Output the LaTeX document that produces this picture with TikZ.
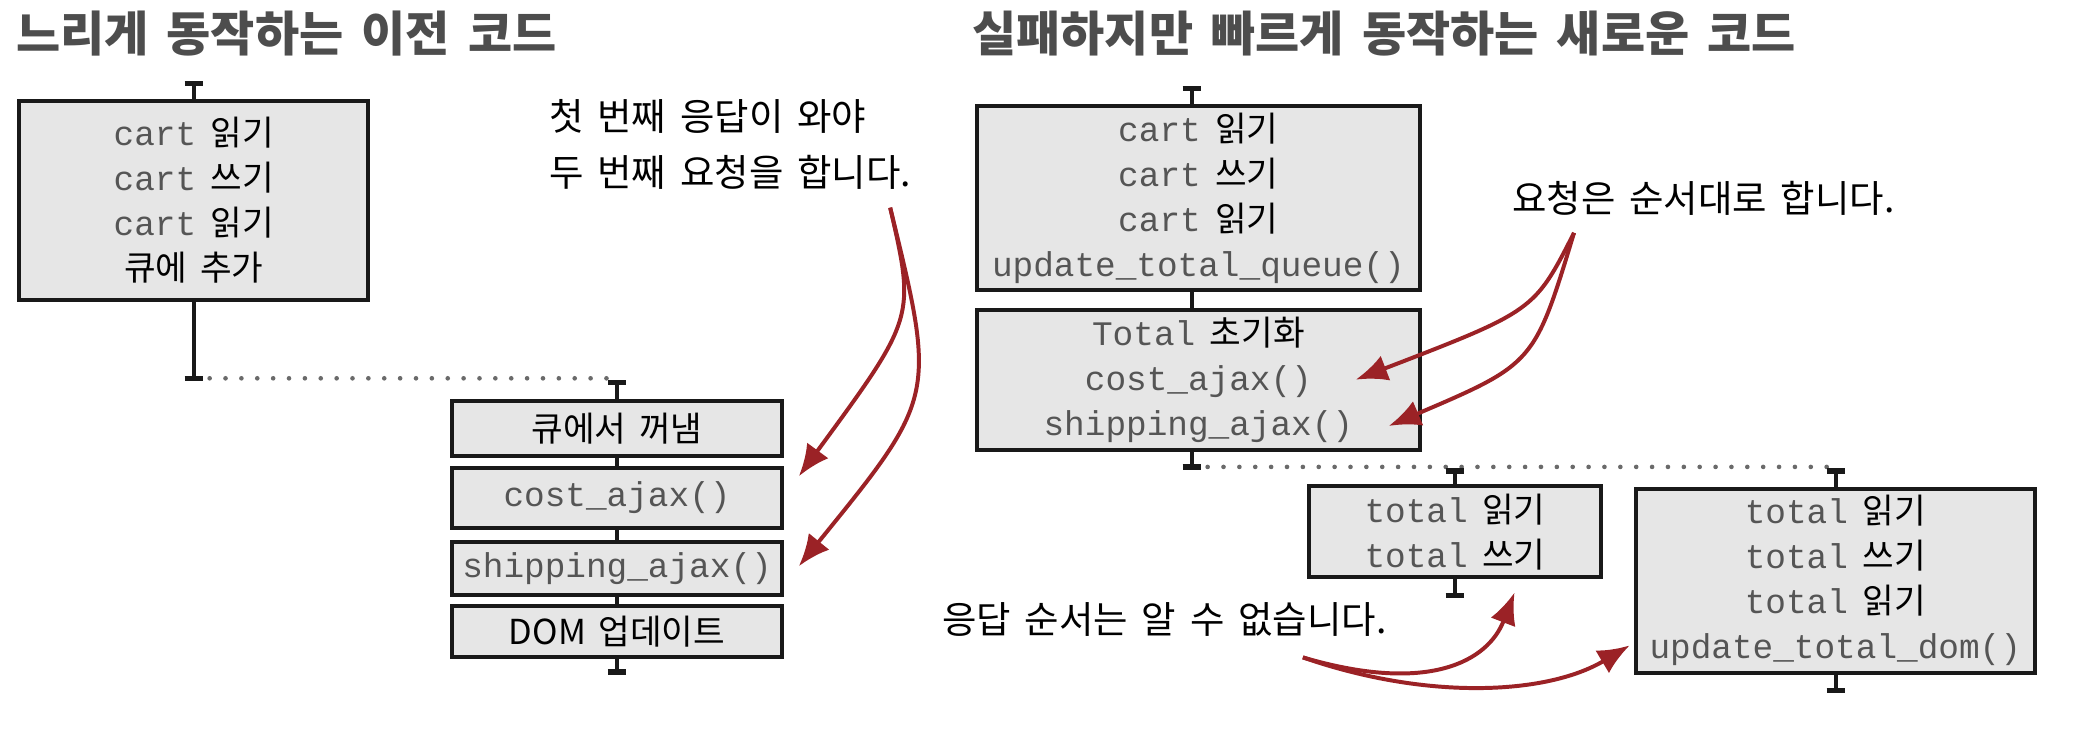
\documentclass[tikz,border=0pt]{standalone}
\usepackage{fontspec}
\setmonofont{Liberation Mono}
\newfontfamily\kr{Noto Sans CJK KR}
\newfontfamily\krw[WordSpace=2]{Noto Sans CJK KR}
\newfontfamily\krt[WordSpace=1.65]{Noto Sans CJK KR}
\usetikzlibrary{arrows.meta}
\definecolor{codegray}{HTML}{555555}
\definecolor{boxfill}{HTML}{E6E6E6}
\definecolor{arrred}{HTML}{9B2226}
\definecolor{titlegray}{HTML}{4D4D4D}
\definecolor{dotgray}{HTML}{6A6A6A}
\newcommand\cd[1]{{\ttfamily\color{codegray}#1}}
\newcommand\cl[2]{\cd{#1}\hspace{0.42em}#2}
\newcommand\tickat[1]{\draw[tickbar] ([xshift=-7pt]#1) -- ([xshift=7pt]#1);}
\tikzset{
 box/.style={draw=black!90, line width=3pt, fill=boxfill, align=center, inner sep=0pt, font=\kr\fontsize{26}{34}\selectfont},
 spine/.style={line width=3pt, draw=black!90},
 tickbar/.style={line width=4pt, draw=black!90},
 dots/.style={line width=3.5pt, draw=dotgray, dash pattern=on 0pt off 12pt, line cap=round},
 redarrow/.style={line width=3pt, draw=arrred, -{Latex[length=24pt,width=20pt]}},
 note/.style={font=\krw\fontsize{28.3}{42}\selectfont, align=left, inner sep=0pt, anchor=west},
 title/.style={font=\krt\bfseries\fontsize{36.3}{42}\selectfont, text=titlegray, inner sep=0pt, anchor=west}
}
\begin{document}
\begin{tikzpicture}[x=1pt,y=-1pt]
\useasboundingbox (0,0) rectangle (1568,555);
% titles
\node[title] (tl) at (12,25) {느리게 동작하는 이전 코드};
\node[title] (tr) at (735,25) {실패하지만 빠르게 동작하는 새로운 코드};

% ---------- left: old code ----------
\node[box, minimum width=264pt, minimum height=150pt] (L1) at (146.5,151.5)
  {\cl{cart}{읽기}\\ \cl{cart}{쓰기}\\ \cl{cart}{읽기}\\ 큐에 추가};
\coordinate (L1t) at (146.5,63);
\coordinate (L1b) at (146.5,286);
\draw[spine] (L1t) -- (L1t |- L1.north);
\draw[spine] (L1.south) -- (L1b);
\tickat{L1t}
\tickat{L1b}

\node[box, minimum width=250pt, minimum height=41pt] (L2) at (466.5,324) {큐에서 꺼냄};
\node[box, minimum width=250pt, minimum height=45pt] (L3) at (466.5,376.5) {\cd{cost\_ajax()}};
\node[box, minimum width=250pt, minimum height=40pt] (L4) at (466.5,429.5) {\cd{shipping\_ajax()}};
\node[box, minimum width=250pt, minimum height=39pt] (L5) at (466.5,477.5) {DOM 업데이트};
\coordinate (L2t) at (466.5,289);
\coordinate (L5b) at (466.5,508);
\draw[dots] ([xshift=12pt]L1b) -- ([xshift=-6pt]L1b -| L2t);
\draw[spine] (L2t) -- (L2.north);
\draw[spine] (L2.south) -- (L3.north);
\draw[spine] (L3.south) -- (L4.north);
\draw[spine] (L4.south) -- (L5.north);
\draw[spine] (L5.south) -- (L5b);
\tickat{L2t}
\tickat{L5b}

\node[note] (n1) at (415,109) {첫 번째 응답이 와야\\두 번째 요청을 합니다.};
\coordinate (a1s) at (673,157);
\coordinate (a1e) at (604,360);
\coordinate (a2e) at (604,428);
\draw[redarrow] (a1s) .. controls (692,240) .. (a1e);
\draw[redarrow] (a1s) .. controls (708,300) .. (a2e);

% ---------- right: new code ----------
\node[box, minimum width=335pt, minimum height=139pt] (R1) at (906,150)
  {\cl{cart}{읽기}\\ \cl{cart}{쓰기}\\ \cl{cart}{읽기}\\ \cd{update\_total\_queue()}};
\node[box, minimum width=335pt, minimum height=106pt] (R2) at (906,287.5)
  {\cl{Total}{초기화}\\ \cd{cost\_ajax()}\\ \cd{shipping\_ajax()}};
\coordinate (Rt) at (901,67);
\coordinate (Rb) at (901,353);
\draw[spine] (Rt) -- (Rt |- R1.north);
\draw[spine] (Rt |- R1.south) -- (Rt |- R2.north);
\draw[spine] (Rt |- R2.south) -- (Rb);
\tickat{Rt}
\tickat{Rb}

\node[box, minimum width=221pt, minimum height=69pt] (R3) at (1100,402)
  {\cl{total}{읽기}\\ \cl{total}{쓰기}};
\node[box, minimum width=302pt, minimum height=139pt] (R4) at (1387.5,439)
  {\cl{total}{읽기}\\ \cl{total}{쓰기}\\ \cl{total}{읽기}\\ \cd{update\_total\_dom()}};
\coordinate (R3t) at (1100,356);
\coordinate (R3b) at (1100,450);
\coordinate (R4t) at (1388,356);
\coordinate (R4b) at (1388,522);
\draw[dots] ([xshift=12pt]Rb) -- ([xshift=-6pt]Rb -| R4t);
\draw[spine] (R3t) -- (R3t |- R3.north);
\draw[spine] (R3t |- R3.south) -- (R3b);
\draw[spine] (R4t) -- (R4t |- R4.north);
\draw[spine] (R4t |- R4.south) -- (R4b);
\tickat{R3t}
\tickat{R3b}
\tickat{R4t}
\tickat{R4b}

\node[note] (n2) at (1143,150) {요청은 순서대로 합니다.};
\coordinate (b1s) at (1190,176);
\coordinate (b1e) at (1025,287);
\coordinate (b2e) at (1050,322);
\draw[redarrow] (b1s) .. controls (1160,235) .. (b1e);
\draw[redarrow] (b1s) .. controls (1160,275) .. (b2e);

\node[note] (n3) at (712,468) {응답 순서는 알 수 없습니다.};
\coordinate (c1s) at (985,497);
\coordinate (c1e) at (1145,448);
\coordinate (c2e) at (1232,488);
\draw[redarrow] (c1s) .. controls (1080,525) and (1125,500) .. (c1e);
\draw[redarrow] (c1s) .. controls (1080,530) and (1170,525) .. (c2e);
\end{tikzpicture}
\end{document}
